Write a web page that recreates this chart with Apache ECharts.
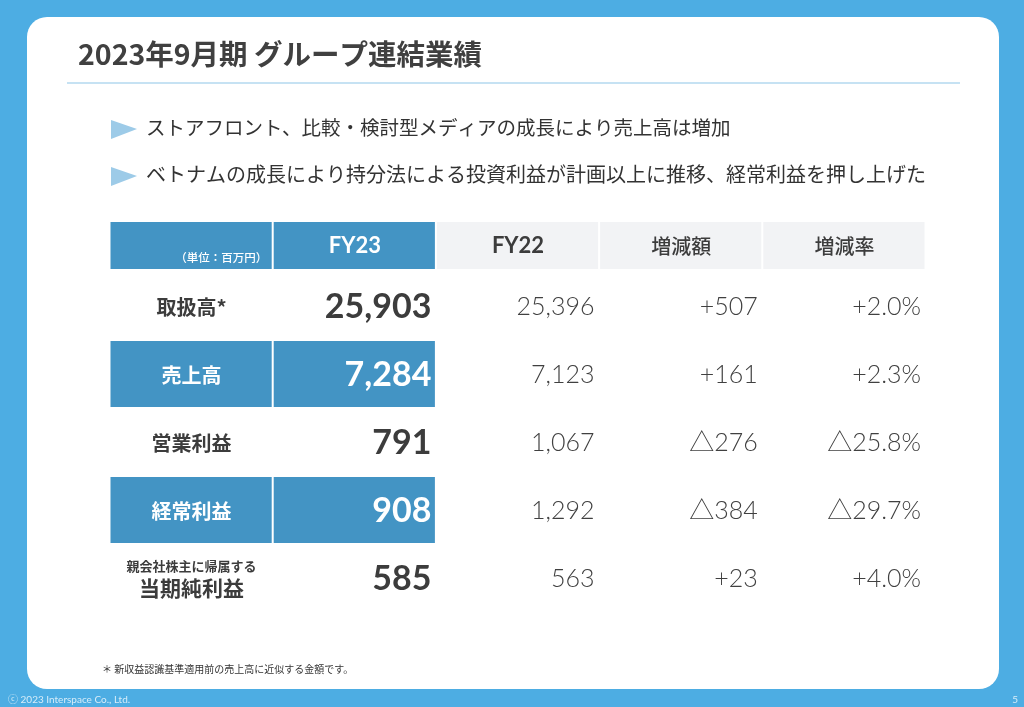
<!DOCTYPE html>
<html><head><meta charset="utf-8">
<script src="https://cdn.jsdelivr.net/npm/echarts@6/dist/echarts.min.js"></script>
<style>html,body{margin:0;padding:0;background:#4dade3;}#c{width:1024px;height:707px;}</style>
</head><body><div id="c"></div>
<script>
const titleText = '2023年9月期 グループ連結業績';
const bulletTexts = ['ストアフロント、比較・検討型メディアの成長により売上高は増加',
  'ベトナムの成長により持分法による投資利益が計画以上に推移、経常利益を押し上げた'];
const headerLabels = ['（単位：百万円）', 'FY23', 'FY22', '増減額', '増減率'];
const rowLabels = ['取扱高*', '売上高', '営業利益', '経常利益', '当期純利益'];
const rowSubLabels = ['', '', '', '', '親会社株主に帰属する'];
const fy23 = [25903, 7284, 791, 908, 585];
const fy22 = [25396, 7123, 1067, 1292, 563];
const diffLabels = ['+507', '+161', '△276', '△384', '+23'];
const rateLabels = ['+2.0%', '+2.3%', '△25.8%', '△29.7%', '+4.0%'];
const highlightRows = [false, true, false, true, false];
const footnote = '＊ 新収益認識基準適用前の売上高に近似する金額です。';
const copyright = 'ⓒ 2023 Interspace Co., Ltd.';
const pageNo = '5';

const BLUE = '#4394c4';
const GRAY = '#f2f3f5';
const DARK = '#3c3c3c';
const JP = '"Noto Sans CJK JP", sans-serif';
const NUM = 'Lato, "Noto Sans CJK JP", sans-serif';
const fmt = v => v.toLocaleString('en-US');

const chart = echarts.init(document.getElementById('c'), null, {renderer: 'canvas'});

const headerData = headerLabels.map((_, c) => [c, 0]);
const bodyData = [];
rowLabels.forEach((_, r) => { for (let c = 0; c < 5; c++) bodyData.push([c, r]); });

function headerItem(params, api) {
  const c = api.value(0), r = api.value(1);
  const p = api.coord([c, r]); const s = api.size([1, 1]);
  const x0 = p[0] - s[0] / 2, y0 = p[1] - s[1] / 2;
  const ch = [{type: 'rect', shape: {x: x0 + 0.5, y: y0, width: s[0] - 2, height: s[1] - 1},
    style: {fill: c < 2 ? BLUE : GRAY}}];
  if (c === 0) {
    ch.push({type: 'text', style: {text: headerLabels[c], x: x0 + s[0] - 6, y: p[1] + 12, align: 'right', verticalAlign: 'middle',
      fontFamily: JP, fontSize: 11.5, fontWeight: 500, fill: '#ffffff'}});
  } else if (c <= 2) {
    ch.push({type: 'text', style: {text: headerLabels[c], x: p[0], y: p[1], align: 'center', verticalAlign: 'middle',
      fontFamily: NUM, fontSize: 22, fontWeight: 'bold', fill: c === 1 ? '#ffffff' : DARK}});
  } else {
    ch.push({type: 'text', style: {text: headerLabels[c], x: p[0], y: p[1], align: 'center', verticalAlign: 'middle',
      fontFamily: JP, fontSize: 20, fontWeight: 500, fill: DARK}});
  }
  return {type: 'group', children: ch};
}

function bodyItem(params, api) {
  const c = api.value(0), r = api.value(1);
  const p = api.coord([c, r]); const s = api.size([1, 1]);
  const x0 = p[0] - s[0] / 2, y0 = p[1] - s[1] / 2;
  const hl = highlightRows[r];
  const ch = [];
  if (hl && c < 2) ch.push({type: 'rect', shape: {x: x0 + 0.5, y: y0, width: s[0] - 2, height: s[1] - 2}, style: {fill: BLUE}});
  if (c === 0) {
    if (rowSubLabels[r]) {
      ch.push({type: 'text', style: {text: rowSubLabels[r], x: p[0], y: p[1] - 13, align: 'center', verticalAlign: 'middle',
        fontFamily: JP, fontSize: 13, fontWeight: 'bold', fill: DARK}});
      ch.push({type: 'text', style: {text: rowLabels[r], x: p[0], y: p[1] + 9, align: 'center', verticalAlign: 'middle',
        fontFamily: JP, fontSize: 21, fontWeight: 'bold', fill: DARK}});
    } else {
      ch.push({type: 'text', style: {text: rowLabels[r], x: p[0], y: p[1], align: 'center', verticalAlign: 'middle',
        fontFamily: JP, fontSize: 20, fontWeight: 'bold', fill: hl ? '#ffffff' : DARK}});
    }
  } else if (c === 1) {
    ch.push({type: 'text', style: {text: fmt(fy23[r]), x: x0 + s[0] - 5, y: p[1], align: 'right', verticalAlign: 'middle',
      fontFamily: NUM, fontSize: 34, fontWeight: 'bold', fill: hl ? '#ffffff' : DARK}});
  } else {
    const t = c === 2 ? fmt(fy22[r]) : c === 3 ? diffLabels[r] : rateLabels[r];
    ch.push({type: 'text', style: {text: t, x: x0 + s[0] - 5, y: p[1], align: 'right', verticalAlign: 'middle',
      fontFamily: NUM, fontSize: 25, fontWeight: 300, fill: '#404040'}});
  }
  return {type: 'group', children: ch};
}

const option = {
  animation: false,
  backgroundColor: '#4dade3',
  grid: [
    {left: 110, width: 816, top: 222, height: 48},
    {left: 110, width: 816, top: 273, height: 340}
  ],
  xAxis: [
    {type: 'category', gridIndex: 0, data: headerLabels, show: false},
    {type: 'category', gridIndex: 1, data: headerLabels, show: false}
  ],
  yAxis: [
    {type: 'category', gridIndex: 0, data: ['h'], show: false, inverse: true},
    {type: 'category', gridIndex: 1, data: rowLabels, show: false, inverse: true}
  ],
  graphic: [
    {type: 'rect', z: 0, shape: {x: 27, y: 17, width: 972, height: 672, r: 20}, style: {fill: '#ffffff'}},
    {type: 'text', z: 1, style: {text: titleText, x: 78, y: 54, verticalAlign: 'middle', fontFamily: JP, fontSize: 28.5, fontWeight: 'bold', fill: '#404040'}},
    {type: 'rect', z: 1, shape: {x: 67, y: 82.5, width: 893, height: 1}, style: {fill: '#8ec5e8'}},
    {type: 'polygon', z: 1, shape: {points: [[111, 120], [137, 129], [111, 139]]}, style: {fill: '#9dcbe8'}},
    {type: 'polygon', z: 1, shape: {points: [[111, 167], [137, 176], [111, 186]]}, style: {fill: '#9dcbe8'}},
    {type: 'text', z: 1, style: {text: bulletTexts[0], x: 146, y: 128, verticalAlign: 'middle', fontFamily: JP, fontSize: 19.5, fill: '#333333'}},
    {type: 'text', z: 1, style: {text: bulletTexts[1], x: 146, y: 174, verticalAlign: 'middle', fontFamily: JP, fontSize: 20, fill: '#333333'}},
    {type: 'text', z: 1, style: {text: footnote, x: 102, y: 669, verticalAlign: 'middle', fontFamily: JP, fontSize: 10, fill: '#333333'}},
    {type: 'text', z: 1, style: {text: copyright, x: 8, y: 700, verticalAlign: 'middle', fontFamily: NUM, fontSize: 10, fill: '#d6ecf9'}},
    {type: 'text', z: 1, style: {text: pageNo, x: 1018, y: 700, align: 'right', verticalAlign: 'middle', fontFamily: NUM, fontSize: 10, fill: '#d6ecf9'}}
  ],
  series: [
    {type: 'custom', xAxisIndex: 0, yAxisIndex: 0, z: 5, data: headerData, renderItem: headerItem, clip: false, silent: true},
    {type: 'custom', xAxisIndex: 1, yAxisIndex: 1, z: 5, data: bodyData, renderItem: bodyItem, clip: false, silent: true}
  ]
};
chart.setOption(option);
</script>
</body></html>
